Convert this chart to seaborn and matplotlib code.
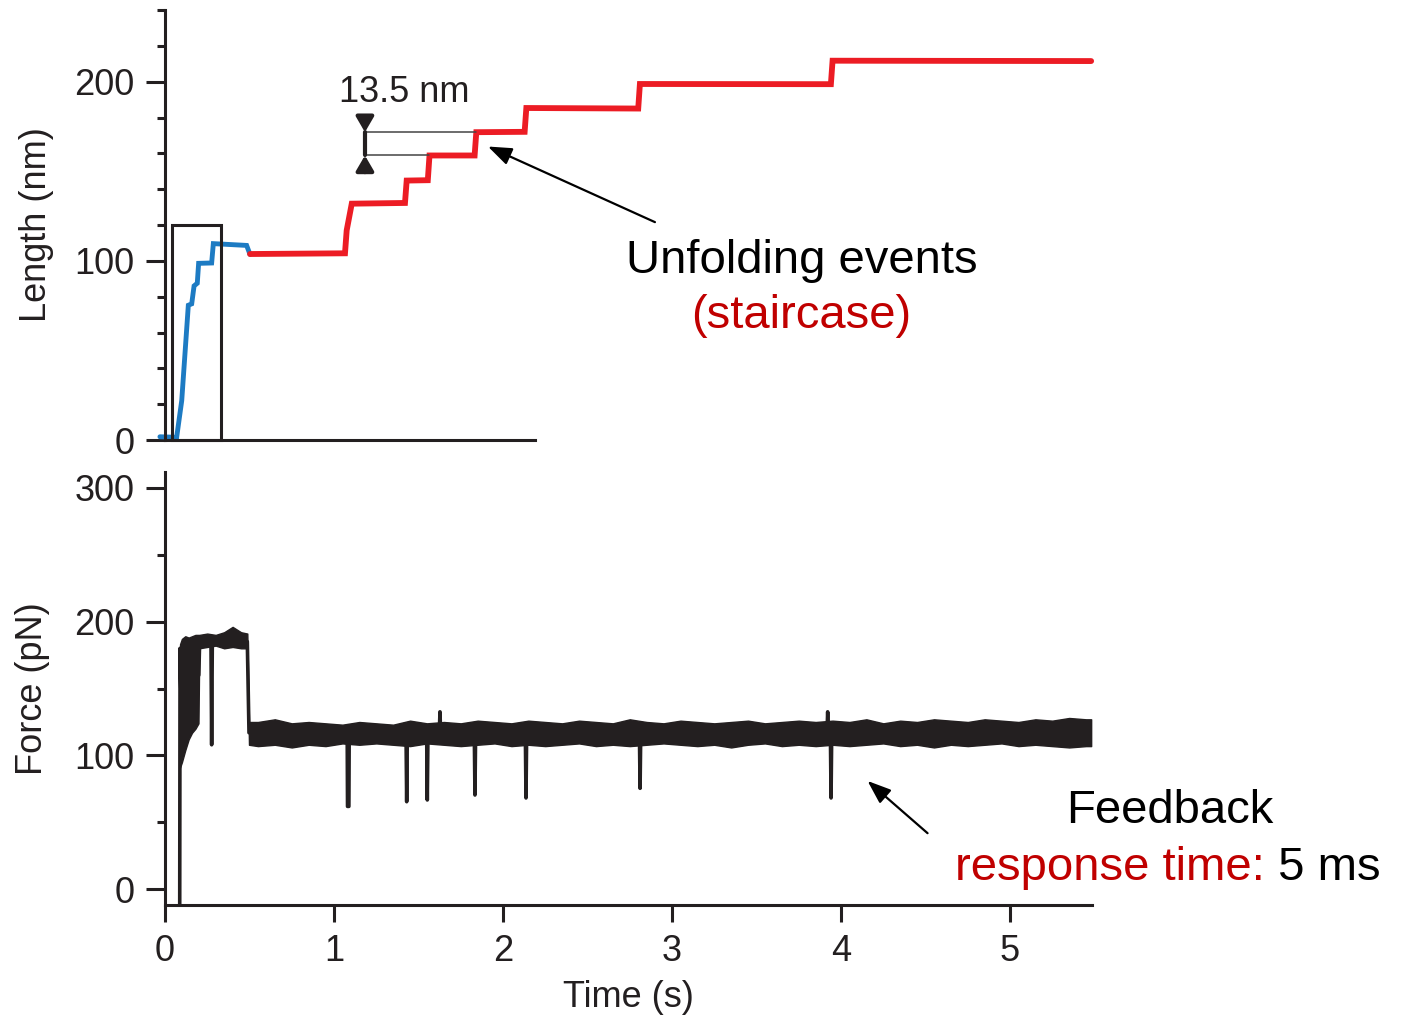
import matplotlib
matplotlib.use("Agg")
import matplotlib.pyplot as plt
from matplotlib.patches import Rectangle
from matplotlib.ticker import FixedLocator, MultipleLocator
import pandas as pd
import seaborn as sns

# ---------------------------------------------------------------- data
# Length trace: initial extension (blue) and the unfolding staircase (red)
blue_t = [-0.03, 0.069, 0.099, 0.138, 0.158, 0.172, 0.191, 0.199, 0.276, 0.286, 0.483, 0.503]
blue_len = [1.8, 1.5, 22.0, 75.2, 76.0, 86.0, 87.5, 98.6, 98.8, 109.6, 108.6, 103.6]

red_t = [0.503, 1.065, 1.075, 1.105, 1.420, 1.430, 1.555, 1.565, 1.832, 1.842,
         2.128, 2.138, 2.800, 2.810, 3.940, 3.950, 5.480]
red_len = [103.8, 104.2, 117.0, 131.9, 132.3, 144.8, 145.0, 158.8, 158.8, 171.8,
           172.0, 185.3, 185.0, 198.7, 198.6, 211.7, 211.5]

# Force trace: centre line (with the short dips at each unfolding event)
force_t = [-0.03, 0.087, 0.089, 0.095, 0.200, 0.205, 0.272, 0.276, 0.280, 0.400, 0.487, 0.497,
           1.078, 1.080, 1.088, 1.090,
           1.426, 1.430, 1.434,
           1.548, 1.552, 1.556,
           1.623, 1.627, 1.631,
           1.830, 1.834, 1.838,
           2.132, 2.136, 2.140,
           2.807, 2.811, 2.815,
           3.917, 3.921, 3.925,
           3.937, 3.941, 3.945,
           5.480]
force_mid = [-20, -20, 180, 140, 160, 185, 185, 108, 185, 186, 185, 117,
             117, 62, 62, 117,
             117, 65.5, 117,
             117, 66.8, 117,
             117, 132.6, 117,
             117, 70.5, 117,
             117, 68.3, 117,
             117, 75.5, 117,
             117, 132.6, 117,
             117, 68.3, 117,
             118]

# Force trace: spread of the feedback noise around the centre line
band_t = [0.089, 0.10, 0.12, 0.14, 0.16, 0.18, 0.198, 0.203, 0.25, 0.30, 0.35, 0.40, 0.45, 0.487,
          0.497, 0.55, 0.65, 0.75, 0.85, 0.95, 1.05, 1.15, 1.25, 1.35, 1.45, 1.55, 1.65, 1.75,
          1.85, 1.95, 2.05, 2.15, 2.25, 2.35, 2.45, 2.55, 2.65, 2.75, 2.85, 2.95, 3.05, 3.15,
          3.25, 3.35, 3.45, 3.55, 3.65, 3.75, 3.85, 3.95, 4.05, 4.15, 4.25, 4.35, 4.45, 4.55,
          4.65, 4.75, 4.85, 4.95, 5.05, 5.15, 5.25, 5.35, 5.45, 5.48]
band_lo = [91, 95, 104, 112, 117, 120, 124, 180, 181, 182, 180, 181, 180, 180,
           108, 107, 108, 106, 108, 107, 109, 108, 109, 108, 107, 109, 108, 107,
           108, 109, 107, 108, 107, 108, 109, 107, 108, 107, 108, 109, 108, 107,
           108, 106, 108, 109, 107, 108, 107, 108, 107, 108, 109, 107, 108, 106,
           108, 107, 108, 109, 107, 108, 107, 106, 107, 107]
band_hi = [183, 187, 189, 188, 189, 190, 190, 190, 191, 190, 192, 196, 192, 191,
           125, 125, 127, 124, 125, 124, 123, 125, 124, 123, 126, 124, 125, 124,
           126, 125, 124, 126, 125, 124, 126, 125, 124, 127, 125, 124, 126, 125,
           124, 125, 126, 124, 125, 126, 125, 126, 125, 127, 124, 126, 125, 127,
           126, 125, 127, 126, 125, 127, 126, 128, 127, 127]

# Step-size marker levels (two neighbouring plateaus) and the highlighted zoom box
step_low, step_high = 158.8, 171.8
step_marker_t = 1.183
step_low_end_t, step_high_end_t = 1.565, 1.842
zoom_box_t = (0.040, 0.329)
zoom_box_len = 120.0

x_max = 5.485

blue_df = pd.DataFrame({"t": blue_t, "length": blue_len})
red_df = pd.DataFrame({"t": red_t, "length": red_len})
force_df = pd.DataFrame({"t": force_t, "force": force_mid})

# ---------------------------------------------------------------- style
sns.set_theme(style="ticks")
plt.rcParams["font.family"] = ["Liberation Sans", "DejaVu Sans"]
ink = "#231f20"
red_line = "#ec1c24"
blue_line = "#1d7bc3"
red_text = "#c00000"

W, H = 1403, 1019
fig = plt.figure(figsize=(W / 100, H / 100), dpi=100)
fig.patch.set_facecolor("white")

ax_len = fig.add_axes([165 / W, 1 - 440 / H, (1092 - 165) / W, 430 / H])
ax_f = fig.add_axes([165 / W, 1 - 905 / H, (1092 - 165) / W, (905 - 472) / H])

for ax in (ax_len, ax_f):
    ax.set_facecolor("white")
    for side in ("top", "right"):
        ax.spines[side].set_visible(False)
    for side in ("left", "bottom"):
        ax.spines[side].set_linewidth(2.2)
        ax.spines[side].set_color(ink)
    ax.set_xlim(0, x_max)
    ax.tick_params(axis="y", which="major", length=14, width=2.2, pad=8,
                   labelsize=26, colors=ink, direction="out")
    ax.tick_params(axis="y", which="minor", length=6, width=2.2, colors=ink,
                   direction="out")

# ---------------------------------------------------------------- length panel
sns.lineplot(data=blue_df, x="t", y="length", ax=ax_len, color=blue_line, lw=3.5,
             sort=False, estimator=None, clip_on=False, solid_joinstyle="miter")
sns.lineplot(data=red_df, x="t", y="length", ax=ax_len, color=red_line, lw=4.2,
             sort=False, estimator=None, clip_on=False, solid_joinstyle="miter")

ax_len.set_ylim(0, 240)
ax_len.yaxis.set_major_locator(FixedLocator([0, 100, 200]))
ax_len.yaxis.set_minor_locator(MultipleLocator(20))
ax_len.tick_params(axis="x", which="both", bottom=False, labelbottom=False)
ax_len.spines["bottom"].set_bounds(0, 2.19)
ax_len.set_xlabel("")
ax_len.set_ylabel("Length (nm)", fontsize=26, color=ink)
ax_len.yaxis.set_label_coords(-0.120, 0.5)

ax_len.add_patch(Rectangle((zoom_box_t[0], 0), zoom_box_t[1] - zoom_box_t[0], zoom_box_len,
                           fill=False, lw=2.2, ec=ink, clip_on=False, zorder=4))

# 13.5 nm step marker
ax_len.plot([step_marker_t, step_high_end_t], [step_high, step_high], color="#444444", lw=1.1)
ax_len.plot([step_marker_t, step_low_end_t], [step_low, step_low], color="#444444", lw=1.1)
ax_len.plot([step_marker_t, step_marker_t], [step_low, step_high], color=ink, lw=3)
head = dict(arrowstyle="-|>,head_length=0.6,head_width=0.35", mutation_scale=15,
            lw=3, color=ink, shrinkA=0, shrinkB=0)
ax_len.annotate("", xy=(step_marker_t, step_high), xytext=(step_marker_t, 180.0), arrowprops=head)
ax_len.annotate("", xy=(step_marker_t, step_low), xytext=(step_marker_t, 149.5), arrowprops=head)
ax_len.text(1.414, 188.5, "13.5 nm", ha="center", va="baseline", fontsize=26, color=ink)

arrow = dict(arrowstyle="-|>,head_length=0.72,head_width=0.27", mutation_scale=20,
             lw=1.6, color="black", shrinkA=0, shrinkB=0)
ax_len.annotate("", xy=(1.911, 163.8), xytext=(2.899, 121.6), arrowprops=arrow)

# ---------------------------------------------------------------- force panel
ax_f.fill_between(band_t, band_lo, band_hi, color=ink, lw=1.0, edgecolor=ink)
sns.lineplot(data=force_df, x="t", y="force", ax=ax_f, color=ink, lw=2.6,
             sort=False, estimator=None)

ax_f.set_ylim(-11.6, 311.6)
ax_f.yaxis.set_major_locator(FixedLocator([0, 100, 200, 300]))
ax_f.yaxis.set_minor_locator(FixedLocator([50, 150, 250]))
ax_f.xaxis.set_major_locator(FixedLocator([0, 1, 2, 3, 4, 5]))
ax_f.tick_params(axis="x", which="major", length=12, width=2.2, pad=9,
                 labelsize=26, colors=ink, direction="out")
ax_f.set_xlabel("Time (s)", fontsize=26, color=ink, labelpad=8)
ax_f.set_ylabel("Force (pN)", fontsize=26, color=ink)
ax_f.yaxis.set_label_coords(-0.124, 0.5)

ax_f.annotate("", xy=(4.157, 81.0), xytext=(4.512, 42.0), arrowprops=arrow)

# ---------------------------------------------------------------- callouts
fig.text(801.5 / W, 1 - 273 / H, "Unfolding events", ha="center", va="baseline",
         fontsize=34, color="black")
fig.text(801.5 / W, 1 - 328 / H, "(staircase)", ha="center", va="baseline",
         fontsize=34, color=red_text)
fig.text(1170 / W, 1 - 823 / H, "Feedback", ha="center", va="baseline",
         fontsize=34, color="black")
resp = fig.text(955 / W, 1 - 880 / H, "response time:", ha="left", va="baseline",
                fontsize=34, color=red_text)
ax_f.annotate(" 5 ms", xy=(1, 0), xycoords=resp, ha="left", va="bottom",
              fontsize=34, color="black", annotation_clip=False)

fig.savefig("out.png", dpi=100, facecolor="white")
